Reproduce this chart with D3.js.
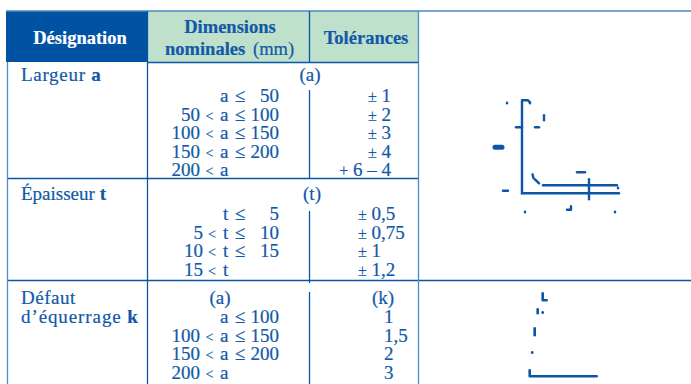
<!DOCTYPE html>
<html>
<head>
<meta charset="utf-8">
<script src="https://cdn.jsdelivr.net/npm/d3@7"></script>
<style>
html, body { margin: 0; padding: 0; background: #fff; }
svg { display: block; }
text { font-family: "Liberation Serif", serif; fill: #1159a8; stroke: #1159a8; stroke-width: 0.2px; }
</style>
</head>
<body>
<script>
// values of the table
var headers = ["Désignation", "Dimensions", "nominales", "(mm)", "Tolérances"];

var largeurLow = ["", "50", "100", "150", "200"];
var largeurHigh = ["50", "100", "150", "200", ""];
var largeurTol = ["± 1", "± 2", "± 3", "± 4", "+ 6 – 4"];

var epaisseurLow = ["", "5", "10", "15"];
var epaisseurHigh = ["5", "10", "15", ""];
var epaisseurTol = ["± 0,5", "± 0,75", "± 1", "± 1,2"];

var defautLow = ["", "100", "150", "200"];
var defautHigh = ["100", "150", "200", ""];
var defautTol = ["1", "1,5", "2", "3"];

// bits of the two angle sketches, units from the corner of the profile
var sketchTop = [
  [[0, 0], [0, 93], [6, 93], [8, 91]],
  [[0, 0], [97, 0]],
  [[21, 8], [95, 8]],
  [[67, -6], [67, 14]],
  [[8, 90.5], [8, 90]],
  [[-15, 90.5], [-15, 90]],
  [[22, 78], [22, 73]],
  [[-6, 66], [0, 66]],
  [[13, 66], [17, 66]],
  [[55, 21], [63, 21]],
  [[-19, 2.5], [-14, 2.5]],
  [[10.5, 19], [11.5, 15]],
  [[13, 14], [17, 10]],
  [[45, -16.5], [49, -16.5], [49, -13]],
  [[3, -19], [3, -18.5]],
  [[93, -19], [93, -18.5]],
  [[96, 5], [96, 5.5]]
];
var sketchThick = [[[-27, 46], [-20, 46]]];
var sketchBottom = [
  [[0, 6], [0, 0], [67, 0]],
  [[13, 83], [13, 76], [17, 76]],
  [[8, 67], [8, 63]],
  [[13, 64], [13, 63.5]],
  [[5, 48], [5, 41]],
  [[2.5, 24], [2.5, 23.5]]
];

var width = 691, height = 384;
var blue = "#0b56a6", dark = "#0052a3", green = "#bfe0cb", pale = "#4d8ac6";

var svg = d3.select("body").append("svg")
    .attr("width", width)
    .attr("height", height);

// header cells
svg.append("rect").attr("x", 6).attr("y", 11).attr("width", 141).attr("height", 51).attr("fill", dark);
svg.append("rect").attr("x", 147).attr("y", 11).attr("width", 271).attr("height", 51).attr("fill", green);

// table rules
var hRules = [[6, 691, 11, pale], [147, 419, 62.5, blue], [7, 419, 178.5, blue], [7, 691, 280.5, blue]];
var vRules = [[7.5, 62, 384, pale], [147.5, 11, 384, blue], [309.5, 11, 62, blue], [309.5, 90, 178, blue],
  [309.5, 211, 283, blue], [309.5, 292, 384, blue], [418.5, 11, 384, pale]];

svg.selectAll("line.h").data(hRules).enter().append("line")
    .attr("class", "h")
    .attr("x1", function(d) { return d[0]; })
    .attr("x2", function(d) { return d[1]; })
    .attr("y1", function(d) { return d[2]; })
    .attr("y2", function(d) { return d[2]; })
    .attr("stroke", function(d) { return d[3]; })
    .attr("stroke-width", 1.3);

svg.selectAll("line.v").data(vRules).enter().append("line")
    .attr("class", "v")
    .attr("x1", function(d) { return d[0]; })
    .attr("x2", function(d) { return d[0]; })
    .attr("y1", function(d) { return d[1]; })
    .attr("y2", function(d) { return d[2]; })
    .attr("stroke", function(d) { return d[3]; })
    .attr("stroke-width", 1.3);

function label(x, y, str, opts) {
  opts = opts || {};
  return svg.append("text")
      .attr("x", x)
      .attr("y", y)
      .attr("text-anchor", opts.anchor || "start")
      .style("font-size", (opts.size || 19) + "px")
      .style("font-weight", opts.bold ? "bold" : "normal")
      .style("letter-spacing", (opts.spacing || 0) + "px")
      .style("fill", opts.fill || null)
      .style("stroke", opts.fill || null)
      .text(str);
}

// header text
label(80, 44, headers[0], {anchor: "middle", bold: true, fill: "#fff", size: 18.5});
label(230, 33, headers[1], {anchor: "middle", bold: true, size: 18.5});
label(165, 55, headers[2], {bold: true, size: 18.5});
label(253, 55, headers[3], {size: 18.5});
label(366, 44, headers[4], {anchor: "middle", bold: true, size: 18.5});

// row headings
var t1 = label(21, 81, "Largeur ", {spacing: 0.7});
t1.append("tspan").style("font-weight", "bold").text("a");
var t2 = label(21, 200, "Épaisseur ");
t2.append("tspan").style("font-weight", "bold").text("t");
label(21, 304, "Défaut", {spacing: 0.5});
var t3 = label(21, 323, "d’équerrage ", {spacing: 0.9});
t3.append("tspan").style("font-weight", "bold").text("k");

label(310, 81, "(a)", {anchor: "middle"});
label(312, 200, "(t)", {anchor: "middle"});
label(220, 304, "(a)", {anchor: "middle"});
label(383, 304, "(k)", {anchor: "middle"});

// one block of ranges : low < v <= high | tolerance
function drawRanges(name, low, high, tol, y, c) {
  low.forEach(function(d, i) {
    var rowY = y(i);
    if (d) {
      label(c.lowEnd, rowY, d, {anchor: "end"});
      label(c.lt, rowY, "<", {anchor: "middle", size: 14});
    }
    label(c.v, rowY, name);
    if (high[i]) {
      label(240, rowY, "≤", {anchor: "middle"});
      label(279, rowY, high[i], {anchor: "end"});
    }
    var tl = label(c.tol, rowY, "", {anchor: c.tolAnchor});
    tol[i].split(" ").forEach(function(part, j) {
      var small = part === "±" || part === "+";
      tl.append("tspan")
          .style("font-size", small ? "16px" : "19px")
          .text((j > 0 ? " " : "") + part);
    });
  });
}

var yLargeur = d3.scaleLinear().domain([0, 4]).range([102, 176]);
var yEpaisseur = d3.scaleLinear().domain([0, 3]).range([220, 276]);
var yDefaut = d3.scaleLinear().domain([0, 3]).range([323, 379]);

drawRanges("a", largeurLow, largeurHigh, largeurTol, yLargeur,
  {lowEnd: 200, lt: 209.5, v: 220, tol: 391, tolAnchor: "end"});
drawRanges("t", epaisseurLow, epaisseurHigh, epaisseurTol, yEpaisseur,
  {lowEnd: 203, lt: 212, v: 223, tol: 358, tolAnchor: "start"});
drawRanges("a", defautLow, defautHigh, defautTol, yDefaut,
  {lowEnd: 200, lt: 209.5, v: 220, tol: 384, tolAnchor: "start"});

// sketches
var defs = svg.append("defs");
defs.append("filter").attr("id", "soft")
    .append("feGaussianBlur").attr("stdDeviation", 0.4);

var xTop = d3.scaleLinear().domain([0, 97]).range([522, 619]);
var yTop = d3.scaleLinear().domain([0, 93]).range([193.3, 100.3]);
var xBottom = d3.scaleLinear().domain([0, 67]).range([529.7, 596.7]);
var yBottom = d3.scaleLinear().domain([0, 83]).range([376.3, 293.3]);

var lineTop = d3.line().x(function(d) { return xTop(d[0]); }).y(function(d) { return yTop(d[1]); });
var lineBottom = d3.line().x(function(d) { return xBottom(d[0]); }).y(function(d) { return yBottom(d[1]); });

var sketches = svg.append("g")
    .attr("filter", "url(#soft)")
    .attr("fill", "none")
    .attr("stroke", blue)
    .attr("stroke-linecap", "round")
    .attr("stroke-linejoin", "round");

sketches.selectAll("path.top").data(sketchTop).enter().append("path")
    .attr("class", "top")
    .attr("d", lineTop)
    .attr("stroke-width", 2.4);
sketches.selectAll("path.thick").data(sketchThick).enter().append("path")
    .attr("class", "thick")
    .attr("d", lineTop)
    .attr("stroke-width", 5);
sketches.selectAll("path.bottom").data(sketchBottom).enter().append("path")
    .attr("class", "bottom")
    .attr("d", lineBottom)
    .attr("stroke-width", 2.6);
</script>
</body>
</html>
